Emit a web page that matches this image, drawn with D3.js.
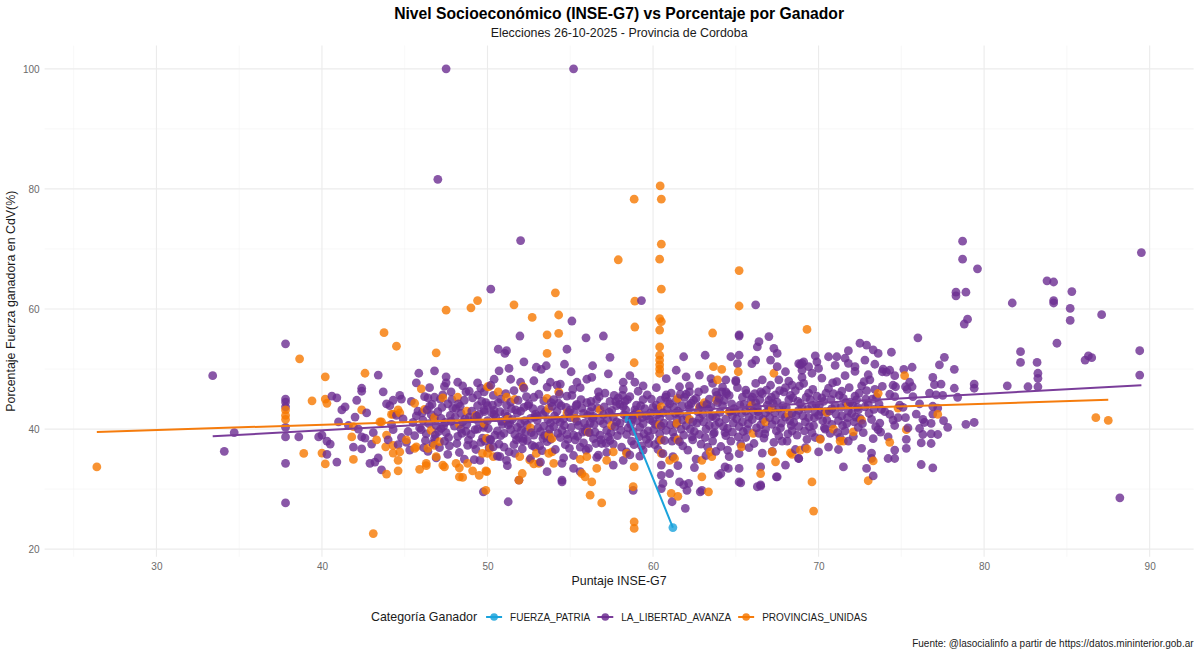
<!DOCTYPE html>
<html>
<head>
<meta charset="utf-8">
<script src="https://cdn.jsdelivr.net/npm/d3@7"></script>
<style>
  body { margin: 0; background: #fff; }
  svg { font-family: "Liberation Sans", Arial, sans-serif; }
</style>
</head>
<body>
<script>
// categories and colours
var parties = ["FUERZA_PATRIA", "LA_LIBERTAD_AVANZA", "PROVINCIAS_UNIDAS"];
var partyColors = ["#1aa3dc", "#6c2d91", "#f67800"];
var lineColors = ["#1aa3dc", "#7a3d9a", "#f57c0d"];

var xTicks = [30, 40, 50, 60, 70, 80, 90];
var yTicks = [20, 40, 60, 80, 100];

// [INSE-G7 score, % of winning force]
var fpPoints = [[58.55, 41.6], [61.2, 23.6]];

var llaPoints = [
  [33.4,48.9],[34.1,36.3],[34.7,39.4],[37.8,54.2],[37.8,45.0],[37.8,44.5],[37.8,43.7],[37.8,40.3],[37.8,38.7],[37.8,34.3],[37.8,27.7],
  [38.6,38.7],[39.8,38.7],[40.0,39.0],[40.3,38.0],[40.5,37.5],[40.3,35.8],[40.9,34.5],[40.6,45.5],[40.9,45.2],[41.2,43.2],[41.4,43.7],
  [42.1,44.8],[42.0,42.0],[42.4,46.8],[42.4,46.3],[43.4,49.0],[42.7,42.7],[43.7,46.2],[43.9,44.2],[44.3,44.8],[44.8,45.0],[42.4,38.7],
  [42.6,38.5],[43.0,37.5],[41.9,37.0],[42.4,36.7],[42.9,34.3],[43.2,34.5],[43.6,33.2],[43.4,35.2],[41.6,40.6],[41.0,41.2],[42.2,40.0],
  [43.1,39.4],[44.0,38.2],[45.85,49.3],[46.8,49.7],[45.7,47.7],[47.5,48.7],[47.5,47.7],[46.4,45.2],[46.8,45.3],[47.8,46.2],[48.5,47.2],
  [48.7,46.2],[49.4,47.7],[49.4,45.7],[49.8,46.2],[49.8,43.2],
  [47.5,100],[55.2,100],[47.0,81.6],[52.0,71.4],[50.2,63.3],[55.1,58.0],[59.3,61.4],[66.2,60.7],[55.95,55.2],[57.0,55.5],[65.2,55.5],
  [51.96,55.5],[50.65,53.3],[51.05,52.6],[51.15,53.05],[54.8,53.3],[57.4,51.95],[52.2,51.2],[50.7,49.7],[51.3,50.1],[52.95,50.3],
  [53.25,49.95],[53.55,50.55],[54.65,50.8],[55.05,49.55],[56.35,50.55],[57.3,49.2],[58.6,48.9],[58.9,47.8],[59.4,47.2],[58.2,47.8],
  [56.0,48.3],[56.3,48.6],[55.4,47.8],[54.4,47.5],[53.8,47.8],[52.8,48.05],[52.0,47.8],[51.4,48.3],[50.4,48.3],
  [51.15,34.8],[51.9,31.5],[51.25,27.9],[49.75,29.55],[53.6,32.9],[54.5,31.5],[55.6,32.9],[55.2,33.45],[56.7,35.65],[57.6,34.0],
  [58.2,34.8],[58.8,29.8],[58.4,36.2],[59.4,36.5],[54.5,34.3],[52.85,37.05],[51.65,35.95],[50.75,35.4],[50.35,37.05],[49.55,34.8],
  [52.15,38.45],[53.35,38.45],[54.95,36.8],[55.95,36.5],[56.55,37.6],
  [61.95,26.8],[61.15,27.9],[54.5,31.2],[60.5,32.3],[60.5,30.1],[61.6,31.2],[61.85,30.7],[62.85,29.55],[62.95,29.8],[64.1,32.6],
  [64.55,33.45],[65.2,31.2],[66.3,30.4],[66.5,30.7],[67.45,32.05],
  [65.2,55.7],[66.4,54.55],[67.0,55.4],[67.3,53.45],[67.5,52.6],[66.3,53.7],[61.85,52.05],[63.15,52.3],[64.7,52.05],[65.2,52.3],
  [65.1,50.9],[65.97,50.9],[66.2,51.5],[67.1,51.5],[67.5,50.4],[68.0,49.55],[68.8,50.9],[69.1,51.2],[69.4,50.4],[69.0,49.8],[69.6,49.3],
  [68.4,47.3],[67.6,48.2],[66.6,48.2],[65.0,47.9],[64.4,48.2],[63.6,47.6],[62.8,49.0],[62.0,48.7],[61.4,49.8],[60.8,48.4],[61.6,47.05],
  [62.2,46.2],[63.8,46.2],[64.4,46.2],[65.6,46.5],[66.5,46.2],
  [60.5,34.0],[61.0,32.6],[62.15,30.95],[62.05,29.8],[63.95,32.3],[64.35,33.7],[65.2,33.45],[65.3,31.05],[66.5,33.7],[66.5,30.5],
  [67.5,32.05],[68.0,34.0],[68.8,35.1],[60.6,30.95],
  [78.7,71.3],[78.7,68.3],[79.6,66.7],[78.3,62.8],[78.3,62.2],[78.9,62.8],[78.8,57.5],[79.0,58.3],[89.5,69.4],[83.8,64.7],[84.2,64.5],
  [81.7,61.0],[84.2,61.4],[84.2,61.0],[85.3,62.9],[85.2,60.1],[85.2,58.1],[87.1,59.05],[84.4,54.3],[89.4,53.05],[89.4,49.0],[88.2,28.55],
  [82.2,52.9],[82.2,51.1],[83.2,51.1],[83.25,49.3],[83.25,48.45],[83.25,47.05],[81.4,47.2],[82.65,47.05],[86.1,51.5],[86.3,52.2],
  [86.5,51.9],[78.9,40.8],[79.4,41.1],[78.2,49.95],[78.2,46.8],[78.4,45.3],[79.4,47.5],[79.4,46.8],[77.3,50.7],[77.6,51.95],[77.4,47.5],
  [77.1,45.7],[77.55,41.4],[76.0,55.2],[75.65,50.3],[75.15,49.95],[76.9,43.8],[76.9,42.5],[76.8,40.95],[76.8,39.2],[77.2,39.1],[76.8,37.6],
  [76.2,37.7],[76.2,34.1],[76.9,33.55],[76.1,40.1],[76.3,41.6],[75.25,41.9],[75.3,36.8],[74.6,35.1],[74.2,35.1],[74.6,36.5],[74.3,42.45],
  [74.5,41.5],[74.4,52.8],[74.3,49.8],[73.85,49.55],[74.6,48.9],[74.65,47.05],[74.6,45.4],[75.35,46.6],[75.25,47.05],[75.65,47.05],
  [71.5,33.7],[72.9,33.45],[73.3,32.2],[73.2,35.1],[71.8,53.05],[72.5,54.3],[72.9,54.0],[73.3,53.2],[73.4,50.8],[73.0,49.05],[72.2,50.4],
  [71.6,51.8],[71.8,50.95],[70.6,52.05],[71.1,52.05],[69.8,52.2],[69.9,51.2],[69.0,50.95],[68.9,50.7],[70.0,36.2],[68.8,35.1],
  // dense core of the cloud
  [44.2,40.8],[44.5,42.3],[44.8,38.6],[44.3,39.9],[44.9,41.7],[44.6,37.4],[44.1,43.9],[44.7,45.6],
  [45.2,39.6],[45.5,41.1],[45.8,43.0],[45.1,37.8],[45.4,44.6],[45.9,40.2],[45.3,36.5],[45.7,42.2],[45.6,38.9],
  [46.1,41.5],[46.3,39.2],[46.5,43.8],[46.7,37.6],[46.9,40.6],[46.2,45.4],[46.4,36.3],[46.6,42.4],[46.8,38.4],[46.0,39.9],[46.5,46.9],[46.9,35.2],
  [47.0,42.9],[47.2,40.1],[47.4,38.0],[47.6,44.2],[47.8,41.3],[47.1,36.9],[47.3,45.7],[47.5,39.4],[47.7,37.2],[47.9,43.5],[47.2,41.8],[47.6,35.8],[47.4,47.1],
  [48.0,40.5],[48.2,38.8],[48.4,42.6],[48.6,44.8],[48.8,37.3],[48.1,43.4],[48.3,36.1],[48.5,41.2],[48.7,39.6],[48.9,46.3],[48.2,47.8],[48.6,35.0],[48.4,40.0],[48.9,42.0],
  [49.0,39.1],[49.2,41.7],[49.4,43.9],[49.6,37.8],[49.8,40.6],[49.1,45.2],[49.3,36.6],[49.5,42.5],[49.7,38.5],[49.9,44.4],[49.2,34.9],[49.6,46.8],[49.4,40.0],[49.8,42.9],
  [50.0,41.4],[50.2,38.2],[50.4,43.1],[50.6,39.7],[50.8,45.0],[50.1,36.9],[50.3,44.0],[50.5,41.9],[50.7,37.5],[50.9,40.8],[50.2,47.3],[50.6,35.5],[50.4,42.4],[50.8,38.9],[50.0,43.9],
  [51.0,39.3],[51.2,42.1],[51.4,44.5],[51.6,37.4],[51.8,40.3],[51.1,45.9],[51.3,36.2],[51.5,41.6],[51.7,43.2],[51.9,38.6],[51.2,33.9],[51.6,46.4],[51.4,39.9],[51.8,42.7],[51.0,37.0],
  [52.0,40.9],[52.2,43.6],[52.4,38.1],[52.6,41.8],[52.8,45.3],[52.1,36.7],[52.3,39.5],[52.5,44.2],[52.7,37.3],[52.9,42.5],[52.2,46.8],[52.6,35.1],[52.4,40.7],[52.8,39.0],[52.0,43.0],
  [53.0,42.2],[53.2,39.6],[53.4,44.7],[53.6,37.9],[53.8,41.0],[53.1,45.8],[53.3,36.4],[53.5,42.9],[53.7,39.2],[53.9,43.8],[53.2,34.5],[53.6,47.0],[53.4,40.5],[53.8,38.3],[53.0,41.5],
  [54.0,40.4],[54.2,43.0],[54.4,38.6],[54.6,41.7],[54.8,45.5],[54.1,36.6],[54.3,44.3],[54.5,39.8],[54.7,37.4],[54.9,42.8],[54.2,47.3],[54.6,35.2],[54.4,41.1],[54.8,39.1],[54.0,44.9],
  [55.0,41.9],[55.2,39.0],[55.4,44.1],[55.6,37.0],[55.8,42.6],[55.1,45.6],[55.3,38.2],[55.5,40.6],[55.7,43.5],[55.9,39.7],[55.2,35.6],[55.6,46.9],[55.4,41.3],[55.8,37.7],[55.0,43.2],
  [56.0,40.2],[56.2,42.9],[56.4,38.4],[56.6,44.9],[56.8,41.4],[56.1,36.8],[56.3,43.7],[56.5,39.5],[56.7,46.2],[56.9,37.6],[56.2,41.0],[56.6,35.3],[56.4,42.1],[56.8,39.0],[56.0,44.4],
  [57.0,42.4],[57.2,39.8],[57.4,44.6],[57.6,37.5],[57.8,41.2],[57.1,46.0],[57.3,38.7],[57.5,43.1],[57.7,40.4],[57.9,45.2],[57.2,36.1],[57.6,42.0],[57.4,38.1],[57.8,43.9],[57.0,40.9],
  [58.0,41.0],[58.2,43.8],[58.4,39.1],[58.6,45.4],[58.8,42.3],[58.1,37.0],[58.3,44.6],[58.5,40.2],[58.7,38.0],[58.9,43.2],[58.2,46.6],[58.6,35.7],[58.4,41.7],[58.8,39.6],[58.0,44.1],
  [59.0,42.8],[59.2,40.3],[59.4,44.9],[59.6,38.3],[59.8,41.6],[59.1,46.3],[59.3,37.2],[59.5,43.4],[59.7,39.7],[59.9,45.0],[59.2,35.5],[59.6,42.2],[59.4,40.9],[59.8,38.8],[59.0,44.0],
  [60.0,41.3],[60.2,44.0],[60.4,39.2],[60.6,42.7],[60.8,45.7],[60.1,37.4],[60.3,43.3],[60.5,40.5],[60.7,38.1],[60.9,44.6],[60.2,46.9],[60.6,35.9],[60.4,41.9],[60.8,39.8],[60.0,43.6],[60.3,36.6],
  [61.0,42.1],[61.2,39.5],[61.4,44.8],[61.6,37.9],[61.8,41.5],[61.1,46.0],[61.3,38.6],[61.5,43.0],[61.7,40.0],[61.9,45.3],[61.2,35.4],[61.6,42.6],[61.4,40.8],[61.8,37.2],[61.0,44.2],[61.5,33.9],
  [62.0,40.6],[62.2,43.4],[62.4,38.2],[62.6,45.1],[62.8,41.8],[62.1,36.5],[62.3,44.3],[62.5,39.6],[62.7,42.9],[62.9,37.5],[62.2,47.2],[62.6,35.0],[62.4,41.2],[62.8,39.1],[62.0,45.8],[62.5,33.6],
  [63.0,42.5],[63.2,40.0],[63.4,45.0],[63.6,38.0],[63.8,41.9],[63.1,46.6],[63.3,37.0],[63.5,43.7],[63.7,39.4],[63.9,44.4],[63.2,35.6],[63.6,42.2],[63.4,40.6],[63.8,36.3],[63.0,43.9],[63.5,48.4],
  [64.0,41.1],[64.2,43.9],[64.4,38.9],[64.6,45.6],[64.8,42.3],[64.1,37.1],[64.3,44.8],[64.5,40.1],[64.7,38.0],[64.9,43.4],[64.2,47.0],[64.6,35.4],[64.4,41.7],[64.8,39.5],[64.0,45.1],[64.5,36.5],
  [65.0,42.9],[65.2,40.4],[65.4,45.3],[65.6,38.6],[65.8,42.0],[65.1,46.9],[65.3,37.5],[65.5,44.1],[65.7,39.9],[65.9,44.9],[65.2,35.9],[65.6,43.0],[65.4,41.2],[65.8,36.9],[65.0,48.1],
  [66.0,41.6],[66.2,44.4],[66.4,39.3],[66.6,45.9],[66.8,42.7],[66.1,37.6],[66.3,43.6],[66.5,40.7],[66.7,38.5],[66.9,44.0],[66.2,47.6],[66.6,36.0],[66.4,42.2],[66.8,40.0],[66.0,45.3],
  [67.0,43.2],[67.2,40.8],[67.4,45.7],[67.6,38.9],[67.8,42.4],[67.1,47.3],[67.3,37.8],[67.5,44.5],[67.7,40.2],[67.9,46.2],[67.2,36.3],[67.6,43.5],[67.4,41.5],[67.8,38.0],[67.0,44.8],
  [68.0,42.0],[68.2,44.9],[68.4,39.7],[68.6,46.4],[68.8,43.1],[68.1,38.0],[68.3,45.6],[68.5,41.1],[68.7,39.0],[68.9,44.3],[68.2,48.0],[68.6,36.6],[68.4,42.6],[68.8,40.4],[68.0,46.9],
  [69.0,43.6],[69.2,41.2],[69.4,46.0],[69.6,39.4],[69.8,42.8],[69.1,47.6],[69.3,38.3],[69.5,44.9],[69.7,40.6],[69.9,45.5],[69.2,36.9],[69.6,43.9],[69.4,41.9],[69.8,38.6],[69.0,48.6],
  [70.0,42.3],[70.2,45.2],[70.4,40.0],[70.6,46.8],[70.8,43.4],[70.1,38.4],[70.3,44.6],[70.5,41.5],[70.7,39.3],[70.9,45.9],[70.2,48.5],[70.6,37.0],[70.4,42.9],[70.8,40.8],[70.0,50.1],
  [71.0,43.9],[71.2,41.4],[71.4,46.3],[71.6,39.7],[71.8,43.0],[71.1,47.9],[71.3,38.6],[71.5,45.1],[71.7,40.9],[71.9,44.5],[71.2,36.6],[71.6,48.9],[71.4,42.2],[71.8,38.0],[71.0,50.6],
  [72.0,42.6],[72.2,45.5],[72.4,40.3],[72.6,47.2],[72.8,43.7],[72.1,38.8],[72.3,44.9],[72.5,41.8],[72.7,39.4],[72.9,46.4],[72.2,49.6],[72.6,36.8],[72.4,43.2],[72.8,51.5],
  [73.0,44.1],[73.2,41.6],[73.4,46.6],[73.6,39.9],[73.8,43.3],[73.1,48.2],[73.3,38.4],[73.5,45.3],[73.7,41.0],[73.9,50.0],[73.2,36.0],[73.6,52.6],
  [74.0,42.9],[74.3,45.8],[74.6,40.6],[74.9,44.0],[74.2,38.7],[74.5,47.3],[74.8,41.9],[74.1,49.5],
  [75.1,43.6],[75.4,40.2],[75.7,45.4],[75.3,38.3],[75.9,42.5],[75.5,47.8],
  [76.1,44.2],[76.4,41.1],[76.7,46.0],[76.3,39.1],[76.9,48.6],
  [77.2,43.5],[77.5,45.6],[77.8,40.3],[77.0,47.4],
  // second pass over the densest part
  [46.05,42.7],[46.25,38.1],[46.45,40.9],[46.65,44.1],[46.85,39.0],[46.35,43.2],[46.75,41.8],[46.15,36.9],
  [47.05,39.6],[47.25,43.6],[47.45,41.1],[47.65,38.6],[47.85,44.9],[47.35,40.5],[47.75,42.3],[47.15,45.0],
  [48.05,42.0],[48.25,44.2],[48.45,39.3],[48.65,41.7],[48.85,38.2],[48.35,43.8],[48.75,40.8],[48.15,37.6],
  [49.05,43.0],[49.25,39.9],[49.45,41.3],[49.65,44.6],[49.85,38.0],[49.35,42.1],[49.75,40.3],[49.15,37.4],
  [50.05,40.1],[50.25,42.7],[50.45,39.0],[50.65,44.4],[50.85,41.3],[50.35,45.6],[50.75,42.9],[50.15,38.3],
  [51.05,42.6],[51.25,40.7],[51.45,43.4],[51.65,39.1],[51.85,44.8],[51.35,41.0],[51.75,38.2],[51.15,44.0],
  [52.05,39.8],[52.25,41.4],[52.45,43.9],[52.65,39.4],[52.85,42.0],[52.35,45.4],[52.75,43.4],[52.15,38.0],
  [53.05,40.2],[53.25,43.3],[53.45,38.9],[53.65,41.6],[53.85,44.4],[53.35,42.4],[53.75,40.0],[53.15,37.2],
  [54.05,42.2],[54.25,39.3],[54.45,43.9],[54.65,40.6],[54.85,38.3],[54.35,45.8],[54.75,43.6],[54.15,41.6],
  [55.05,40.3],[55.25,42.8],[55.45,38.8],[55.65,44.9],[55.85,41.0],[55.35,43.9],[55.75,39.5],[55.15,46.6],
  [56.05,42.3],[56.25,44.6],[56.45,40.8],[56.65,43.5],[56.85,38.2],[56.35,41.8],[56.75,45.4],[56.15,39.4],
  [57.05,43.7],[57.25,41.6],[57.45,39.4],[57.65,45.6],[57.85,38.9],[57.35,42.8],[57.75,44.6],[57.15,37.6],
  [58.05,39.8],[58.25,42.4],[58.45,44.9],[58.65,40.8],[58.85,37.4],[58.35,43.2],[58.75,41.6],[58.15,45.6],
  [59.05,41.4],[59.25,43.9],[59.45,39.2],[59.65,45.7],[59.85,42.7],[59.35,41.9],[59.75,37.6],[59.15,38.7],
  [60.05,39.9],[60.25,42.4],[60.45,44.8],[60.65,41.0],[60.85,43.3],[60.35,38.1],[60.75,45.3],[60.15,40.8],
  [61.05,40.7],[61.25,43.6],[61.45,41.6],[61.65,45.8],[61.85,39.0],[61.35,42.6],[61.75,43.9],[61.15,38.0],
  [62.05,42.1],[62.25,40.0],[62.45,44.8],[62.65,41.0],[62.85,43.8],[62.35,38.7],[62.75,46.2],[62.15,44.0],
  [63.05,41.2],[63.25,44.1],[63.45,42.0],[63.65,39.2],[63.85,45.6],[63.35,43.3],[63.75,40.6],[63.15,38.6],
  [64.05,42.8],[64.25,40.4],[64.45,45.9],[64.65,43.0],[64.85,41.0],[64.35,39.4],[64.75,44.2],[64.15,46.2],
  [65.05,41.7],[65.25,44.0],[65.45,39.6],[65.65,45.9],[65.85,43.6],[65.35,42.6],[65.75,40.9],[65.15,38.7],
  [66.05,43.0],[66.25,40.2],[66.45,44.9],[66.65,41.6],[66.85,46.5],[66.35,42.9],[66.75,39.2],[66.15,45.9],
  [67.05,41.9],[67.25,44.3],[67.45,39.7],[67.65,46.4],[67.85,43.9],[67.35,42.7],[67.75,41.0],[67.15,45.3],
  [68.05,43.6],[68.25,41.4],[68.45,45.2],[68.65,42.3],[68.85,47.2],[68.35,40.6],[68.75,44.6],[68.15,39.2],
  [69.05,42.2],[69.25,45.3],[69.45,40.4],[69.65,46.6],[69.85,44.1],[69.35,43.3],[69.75,41.9],[69.15,39.7],
  [70.05,44.0],[70.25,41.4],[70.45,46.0],[70.65,43.0],[70.85,47.7],[70.35,40.2],[70.75,44.9],[70.15,42.9],
  [71.05,42.5],[71.25,45.6],[71.45,40.6],[71.65,44.4],[71.85,46.9],[71.35,43.6],[71.75,41.9],[71.15,39.4],
  [72.05,44.1],[72.25,42.0],[72.45,46.0],[72.65,40.9],[72.85,45.0],[72.35,43.6],[72.75,47.9],[72.15,41.2],
  [73.05,42.6],[73.25,45.0],[73.45,40.4],[73.65,44.2],[73.85,47.1],[73.35,43.3],[73.75,39.5]
];

var puPoints = [
  [26.4,33.7],[37.8,43.2],[37.8,41.6],[37.8,42.3],[38.65,51.7],[43.75,56.05],[44.5,53.8],[46.9,52.7],[40.2,48.7],[42.6,49.3],
  [39.4,44.7],[40.2,45.0],[40.3,44.3],[38.9,35.95],[40.0,36.0],[40.2,34.2],[41.9,34.95],[43.1,22.6],[42.4,43.2],[44.6,43.2],
  [44.3,42.5],[44.7,42.7],[45.6,44.3],[46.2,43.3],[46.0,46.7],[47.3,45.2],[48.2,45.3],[48.75,43.0],[43.5,41.2],[43.9,39.0],
  [44.3,37.3],[44.3,36.0],[44.6,34.8],[44.6,33.05],[43.9,32.5],[45.7,37.05],[45.9,33.3],[46.3,33.9],[47.3,34.0],[47.4,33.7],
  [48.3,33.55],[48.5,31.95],[49.1,33.05],[49.9,33.05],[49.9,29.8],[49.7,35.95],
  [43.6,41.2],[44.2,42.45],[46.8,41.95],[49.3,42.3],[50.0,47.05],[49.8,40.95],[41.8,38.7],[41.9,40.4],[43.3,38.2],[43.85,37.05],
  [44.7,36.2],[45.1,38.2],[45.6,36.8],[46.4,36.8],[46.8,37.3],[47.1,37.9],[46.9,35.4],[46.3,34.3],[48.1,34.3],[48.3,32.05],
  [48.8,34.3],[49.5,32.3],[50.0,35.95],
  [60.43,80.5],[58.86,78.3],[60.5,78.3],[60.5,70.8],[57.9,68.2],[60.4,68.3],[65.2,66.4],[60.5,63.3],[54.1,62.7],[49.4,61.4],
  [49.0,60.2],[47.5,59.8],[51.6,60.7],[58.9,61.3],[65.2,60.5],[52.7,58.6],[54.3,59.0],[60.4,58.4],[60.5,57.9],[58.9,57.0],
  [60.4,56.5],[60.4,53.7],[60.4,52.3],[60.4,51.5],[60.4,50.7],[60.4,50.0],[60.4,49.3],[58.86,51.05],[58.86,33.7],[58.86,24.55],
  [58.86,23.45],[63.6,56.0],[69.3,56.6],
  [63.65,50.4],[64.15,49.95],[63.9,48.2],[65.15,49.55],[67.3,49.3],[61.5,45.1],[63.85,44.8],[63.1,44.4],[62.8,43.6],[60.5,43.7],
  [60.4,40.7],[61.45,40.95],[65.97,44.0],[67.2,43.45],[68.2,42.45],[60.5,38.2],[60.5,35.95],[61.0,34.8],[61.3,35.1],[61.5,38.2],
  [62.95,34.8],[63.45,36.2],[63.55,35.4],[65.35,37.05],[66.05,39.3],[67.2,36.2],[67.4,34.55],[68.4,35.8],[66.5,32.6],[62.95,32.05],
  [63.35,29.55],[61.1,29.3],[61.5,28.8],[69.6,31.2],[69.7,26.35],[68.9,36.5],
  [53.6,55.7],[54.3,55.95],[53.6,52.6],[50.1,47.05],[50.65,46.2],[51.15,45.3],[51.65,44.95],[52.15,47.05],[53.6,45.1],[54.3,46.2],
  [53.7,43.45],[49.95,38.45],[50.15,36.8],[50.35,35.4],[49.95,32.9],[51.95,35.4],[52.55,34.85],[52.95,35.95],[53.7,39.0],[53.9,38.45],
  [53.7,35.95],[53.9,36.2],[54.0,34.3],[53.1,34.3],[52.8,34.2],[55.6,34.95],[56.0,35.4],[55.7,32.6],[55.9,32.05],[56.3,31.2],
  [56.6,33.45],[57.2,34.8],[57.6,36.2],[58.4,35.95],[52.1,32.6],[51.9,31.5],[56.2,29.0],[56.9,27.7],[58.8,30.4],
  [75.2,48.9],[73.6,45.95],[77.2,42.45],[75.3,39.9],[74.3,37.8],[73.3,34.7],[73.0,31.4],[72.1,39.55],[71.3,38.0],[71.5,38.0],
  [70.1,38.3],[69.3,36.7],[68.3,36.05],[86.75,41.9],[87.5,41.45],
  [55.3,41.8],[56.8,43.2],[57.5,40.6],[59.2,42.5],[62.2,41.6],[64.6,42.9],[66.8,41.2],[70.5,42.8],[71.8,44.1],[72.6,41.5],
  [74.8,43.5],[70.9,40.0],[56.1,39.5],[51.2,41.6],[52.6,40.2],[48.3,40.8],[46.6,39.8],[54.8,42.7]
];

var seriesPoints = [fpPoints, llaPoints, puPoints];

var width = 1200,
    height = 654;
var panel = { left: 44.6, right: 1193.6, top: 45.6, bottom: 556.8 };

var svg = d3.select("body")
  .append("svg")
  .attr("width", width)
  .attr("height", height);

// all points with their party index
var allPoints = [];
seriesPoints.forEach(function(pts, i) {
  pts.forEach(function(p) { allPoints.push({ x: p[0], y: p[1], k: i }); });
});

// ggplot style 5% expansion
function expand(ext) {
  var pad = (ext[1] - ext[0]) * 0.05;
  return [ext[0] - pad, ext[1] + pad];
}

var x = d3.scaleLinear()
    .domain(expand(d3.extent(allPoints, function(d) { return d.x; })))
    .range([panel.left, panel.right]);

var y = d3.scaleLinear()
    .domain(expand(d3.extent(allPoints, function(d) { return d.y; })))
    .range([panel.bottom, panel.top]);

// grid (major + minor)
var grid = svg.append("g");
var xMinor = d3.range(25, 95, 10).filter(function(v) { return v > x.domain()[0] && v < x.domain()[1]; });
var yMinor = [30, 50, 70, 90];

grid.selectAll(".xminor").data(xMinor).enter().append("line")
    .attr("x1", function(d) { return x(d); }).attr("x2", function(d) { return x(d); })
    .attr("y1", panel.top).attr("y2", panel.bottom)
    .attr("stroke", "#f4f4f4").attr("stroke-width", 0.6);
grid.selectAll(".yminor").data(yMinor).enter().append("line")
    .attr("y1", function(d) { return y(d); }).attr("y2", function(d) { return y(d); })
    .attr("x1", panel.left).attr("x2", panel.right)
    .attr("stroke", "#f4f4f4").attr("stroke-width", 0.6);
grid.selectAll(".xmajor").data(xTicks).enter().append("line")
    .attr("x1", function(d) { return x(d); }).attr("x2", function(d) { return x(d); })
    .attr("y1", panel.top).attr("y2", panel.bottom)
    .attr("stroke", "#ebebeb").attr("stroke-width", 1.1);
grid.selectAll(".ymajor").data(yTicks).enter().append("line")
    .attr("y1", function(d) { return y(d); }).attr("y2", function(d) { return y(d); })
    .attr("x1", panel.left).attr("x2", panel.right)
    .attr("stroke", "#ebebeb").attr("stroke-width", 1.1);

// axes
var xAxis = svg.append("g")
    .attr("transform", "translate(0," + panel.bottom + ")")
    .call(d3.axisBottom(x).tickValues(xTicks).tickSize(0).tickPadding(6));
var yAxis = svg.append("g")
    .attr("transform", "translate(" + (panel.left - 3) + ",0)")
    .call(d3.axisLeft(y).tickValues(yTicks).tickSize(0).tickPadding(2));
[xAxis, yAxis].forEach(function(a) {
  a.select(".domain").remove();
  a.selectAll("text")
    .attr("fill", "#6b6b6b")
    .attr("font-size", 10)
    .attr("font-family", "'Liberation Sans', Arial, sans-serif");
});

// points, interleaved by x like the source data
allPoints.sort(function(a, b) { return a.x - b.x; });
svg.append("g")
  .selectAll("circle")
  .data(allPoints)
  .enter().append("circle")
    .attr("cx", function(d) { return x(d.x); })
    .attr("cy", function(d) { return y(d.y); })
    .attr("r", 4.4)
    .attr("fill", function(d) { return partyColors[d.k]; })
    .attr("fill-opacity", 0.8);

// linear fit per party
function fit(pts) {
  var mx = d3.mean(pts, function(p) { return p[0]; }),
      my = d3.mean(pts, function(p) { return p[1]; });
  var sxy = d3.sum(pts, function(p) { return (p[0] - mx) * (p[1] - my); }),
      sxx = d3.sum(pts, function(p) { return (p[0] - mx) * (p[0] - mx); });
  var b = sxy / sxx, a = my - b * mx;
  var ext = d3.extent(pts, function(p) { return p[0]; });
  return ext.map(function(v) { return [v, a + b * v]; });
}

var line = d3.line()
    .x(function(d) { return x(d[0]); })
    .y(function(d) { return y(d[1]); });

svg.append("g")
  .selectAll("path")
  .data(seriesPoints.map(fit))
  .enter().append("path")
    .attr("d", line)
    .attr("fill", "none")
    .attr("stroke", function(d, i) { return lineColors[i]; })
    .attr("stroke-width", 2);

// titles
var mid = (panel.left + panel.right) / 2;
svg.append("text")
    .attr("x", mid).attr("y", 19)
    .attr("text-anchor", "middle")
    .attr("font-size", 15.7).attr("font-weight", "bold")
    .attr("fill", "#000")
    .text("Nivel Socioeconómico (INSE-G7) vs Porcentaje por Ganador");
svg.append("text")
    .attr("x", mid).attr("y", 37)
    .attr("text-anchor", "middle")
    .attr("font-size", 12.4)
    .attr("fill", "#1a1a1a")
    .text("Elecciones 26-10-2025 - Provincia de Cordoba");
svg.append("text")
    .attr("x", mid).attr("y", 585)
    .attr("text-anchor", "middle")
    .attr("font-size", 12.4)
    .attr("fill", "#1a1a1a")
    .text("Puntaje INSE-G7");
svg.append("text")
    .attr("transform", "translate(15," + ((panel.top + panel.bottom) / 2) + ") rotate(-90)")
    .attr("text-anchor", "middle")
    .attr("font-size", 12.4)
    .attr("fill", "#1a1a1a")
    .text("Porcentaje Fuerza ganadora en CdV(%)");

// legend
var legend = svg.append("g").attr("transform", "translate(0,617)");
var legendTitle = legend.append("text")
    .attr("x", 371).attr("dy", "0.35em")
    .attr("font-size", 12.4)
    .attr("fill", "#1a1a1a")
    .text("Categoría Ganador");
var lx = 371 + legendTitle.node().getComputedTextLength() + 17;
parties.forEach(function(name, i) {
  var g = legend.append("g").attr("transform", "translate(" + lx + ",0)");
  g.append("line")
      .attr("x1", -8).attr("x2", 8)
      .attr("stroke", lineColors[i]).attr("stroke-width", 2);
  g.append("circle")
      .attr("r", 3.8)
      .attr("fill", partyColors[i]).attr("fill-opacity", 0.85);
  var t = g.append("text")
      .attr("x", 16).attr("dy", "0.35em")
      .attr("font-size", 10)
      .attr("fill", "#1a1a1a")
      .text(name);
  lx += 16 + t.node().getComputedTextLength() + 15;
});

// caption
svg.append("text")
    .attr("x", panel.right).attr("y", 647)
    .attr("text-anchor", "end")
    .attr("font-size", 10)
    .attr("fill", "#1a1a1a")
    .text("Fuente: @lasocialinfo a partir de https://datos.mininterior.gob.ar");
</script>
</body>
</html>
